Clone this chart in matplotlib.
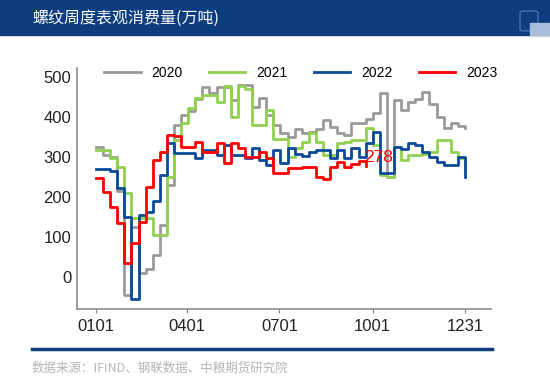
import numpy as np
import matplotlib.pyplot as plt
from matplotlib.patches import Rectangle, FancyBboxPatch
from matplotlib.lines import Line2D

plt.rcParams['font.family'] = ['Liberation Sans', 'Noto Sans CJK SC', 'DejaVu Sans']

# weekly values, wan tons
v2020 = [325, 305, 300, 215, -45, 125, 10, 20, 55, 130, 230, 380, 405, 415,
         445, 475, 460, 475, 475, 443, 480, 480, 425, 447, 405, 380, 360,
         350, 370, 360, 362, 370, 392, 375, 360, 355, 385, 385, 395, 410,
         460, 250, 442, 417, 437, 445, 462, 432, 400, 372, 385, 377, 372]
v2021 = [317, 317, 297, 275, 210, 148, 148, 148, 105, 105, 250, 342, 385, 422,
         447, 455, 455, 437, 477, 400, 477, 470, 380, 380, 418, 345, 345,
         300, 322, 338, 360, 338, 305, 305, 335, 338, 342, 342, 372, 330,
         255, 250, 325, 292, 305, 305, 307, 312, 342, 342, 312, 297, 267]
v2022 = [270, 270, 265, 222, 150, -55, 155, 163, 190, 255, 335, 310, 310, 310,
         297, 318, 318, 305, 330, 305, 305, 297, 322, 292, 280, 318, 285,
         322, 308, 303, 312, 317, 317, 297, 317, 297, 322, 300, 335, 362,
         260, 260, 325, 320, 335, 330, 312, 300, 287, 280, 280, 300, 250]
v2023 = [247, 213, 175, 135, 35, 85, 138, 225, 292, 313, 355, 351, 325, 325,
         338, 313, 313, 335, 285, 335, 322, 300, 300, 313, 297, 260, 260,
         272, 272, 275, 275, 250, 245, 275, 287, 275, 282, 290, 278]

years = ['2020', '2021', '2022', '2023']
colors = ['#9a9a9a', '#92d050', '#0b4a9b', '#ff0000']
tick_days = [0, 90, 181, 273, 364]
tick_labels = ['0101', '0401', '0701', '1001', '1231']

fig = plt.figure(figsize=(5.5, 3.85), dpi=100)

# header band
fig.patches.append(Rectangle((0, 1 - 35 / 385), 1, 35 / 385, transform=fig.transFigure,
                             color='#0d3d7f', zorder=0))
fig.text(32 / 550, 1 - 18 / 385, '螺纹周度表观消费量(万吨)', color='white', fontsize=11.5,
         family=['Noto Sans CJK SC', 'DejaVu Sans'], va='center', ha='left')
# small logo
fig.patches.append(FancyBboxPatch((520 / 550, 1 - 31 / 385), 18 / 550, 20 / 385,
                                  boxstyle='round,pad=0,rounding_size=0.005',
                                  transform=fig.transFigure, fill=False, ec='#5d7fb5', lw=0.8))
fig.patches.append(Rectangle((530 / 550, 1 - 35 / 385), 20 / 550, 12 / 385,
                             transform=fig.transFigure, color='#a9bcd9'))

ax = fig.add_axes([77 / 550, 1 - 309 / 385, 414 / 550, 241 / 385])

for vals, col, yr in zip([v2020, v2021, v2022, v2023], colors, years):
    x = np.arange(len(vals)) * 7
    ax.plot(x, vals, drawstyle='steps-post', color=col, lw=2.0, label=yr)

ax.annotate(str(v2023[-1]), xy=((len(v2023) - 1) * 7, v2023[-1]), xytext=(-1, 6),
            textcoords='offset points', color='#ff0000', fontsize=12.5,
            ha='left', va='center')

ax.set_xlim(-18.7, 389.7)
ax.set_ylim(-80, 522)
ax.set_yticks([0, 100, 200, 300, 400, 500])
ax.set_xticks(tick_days)
ax.set_xticklabels(tick_labels)
ax.tick_params(axis='y', length=0, pad=4, labelsize=12, labelcolor='#222222')
ax.tick_params(axis='x', length=3, color='#808080', pad=4, labelsize=12, labelcolor='#222222')
for s in ['top', 'right']:
    ax.spines[s].set_visible(False)
for s in ['left', 'bottom']:
    ax.spines[s].set_color('#8a8a8a')
    ax.spines[s].set_linewidth(1.2)

ax.legend(loc='center', bbox_to_anchor=(301 / 550, 1 - 73 / 385), bbox_transform=fig.transFigure,
          ncol=4, frameon=False, fontsize=10, handlelength=2.6, handletextpad=0.8,
          columnspacing=1.9)

# bottom rule and source
fig.add_artist(Line2D([32 / 550, 492 / 550], [1 - 349 / 385] * 2, transform=fig.transFigure,
                      color='#0d3d7f', lw=2.5))
fig.text(32 / 550, 1 - 368 / 385, '数据来源：IFIND、钢联数据、中粮期货研究院', color='#b5b5b5',
         fontsize=9, family=['Noto Sans CJK SC', 'DejaVu Sans'], va='center', ha='left')

fig.savefig('out.png', dpi=100)
